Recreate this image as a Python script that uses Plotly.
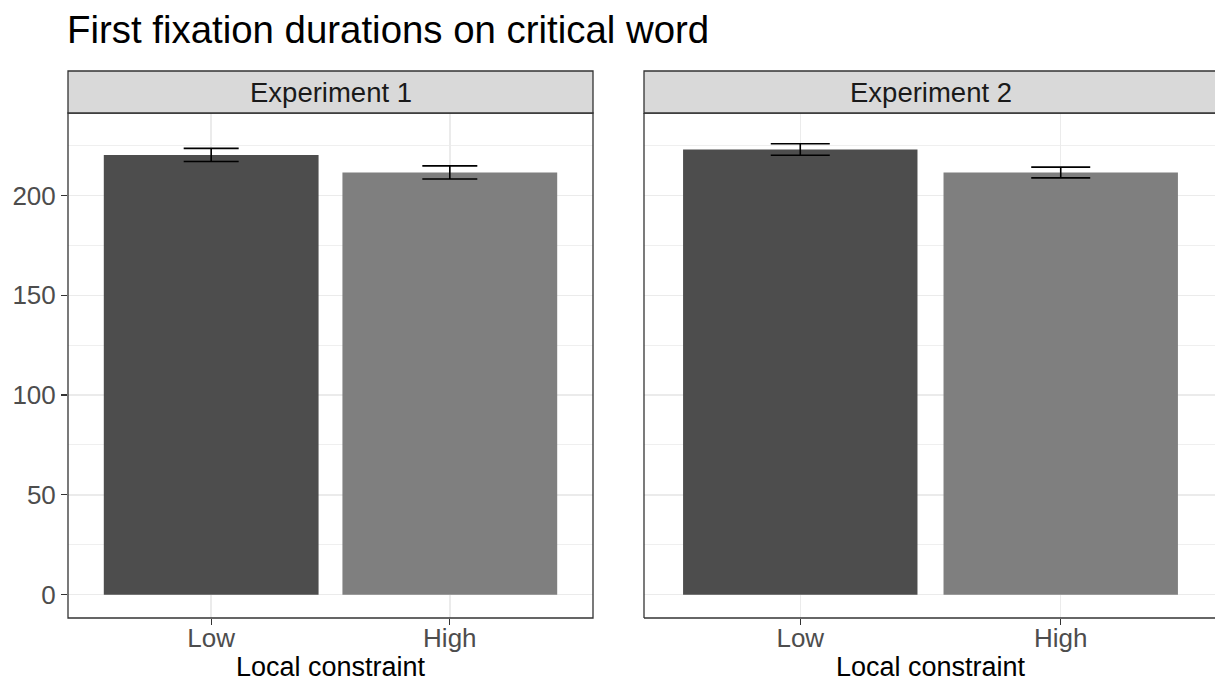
import plotly.graph_objects as go

# ---- data ----
categories = ["Low", "High"]
exp1_means = [220.3, 211.5]
exp1_se = [3.3, 3.3]
exp2_means = [223.0, 211.5]
exp2_se = [2.9, 2.7]
panel_titles = ["Experiment 1", "Experiment 2"]
bar_colors = ["#4D4D4D", "#7F7F7F"]
y_ticks = [0, 50, 100, 150, 200]

W, H = 1215, 685
FONT = "Liberation Sans, Arial, sans-serif"

def px_x(p):
    return p / W

def px_y(p):
    return 1 - p / H

# panel geometry (pixels)
p1_l, p1_r = 68, 593
p2_l, p2_r = 644, 1215
p_top, p_bot = 113, 618
s_top = 71

fig = go.Figure()

for i, (means, se) in enumerate([(exp1_means, exp1_se), (exp2_means, exp2_se)]):
    xa = "x" if i == 0 else "x2"
    fig.add_trace(go.Bar(
        x=categories, y=means, width=0.9,
        marker=dict(color=bar_colors, line=dict(width=0)),
        error_y=dict(type="data", array=se, visible=True, color="black",
                     thickness=1.6, width=27.5 if i == 0 else 29.5),
        xaxis=xa, yaxis="y" if i == 0 else "y2",
        showlegend=False, hoverinfo="skip",
    ))

grid = "#EBEBEB"
yrange = [-11.7, 241.3]
common_x = dict(
    type="category", categoryorder="array", categoryarray=categories,
    showgrid=True, gridcolor=grid, gridwidth=1.4,
    ticks="outside", ticklen=6, tickwidth=1.3, tickcolor="#333333",
    tickfont=dict(family=FONT, size=26, color="#4D4D4D"),
    ticklabelstandoff=-9,
    showline=False, zeroline=False, fixedrange=True,
)
common_y = dict(
    range=yrange, tickvals=y_ticks,
    showgrid=True, gridcolor=grid, gridwidth=1.4,
    minor=dict(dtick=25, tick0=0, showgrid=True, gridcolor=grid, gridwidth=0.8),
    zeroline=False, showline=False, fixedrange=True,
)

p2_range_right = 1.6 - (1217 - p2_r) / ((p2_r - p2_l + 2) / 2.2)

fig.update_layout(
    width=W, height=H,
    margin=dict(l=0, r=0, t=0, b=0),
    paper_bgcolor="white", plot_bgcolor="white",
    bargap=0.1,
    xaxis=dict(domain=[px_x(p1_l), px_x(p1_r)], range=[-0.6, 1.6], anchor="y", **common_x),
    xaxis2=dict(domain=[px_x(p2_l), px_x(p2_r)], range=[-0.6, p2_range_right], anchor="y2", **common_x),
    yaxis=dict(domain=[px_y(p_bot), px_y(p_top)], anchor="x",
               ticks="outside", ticklen=6, tickwidth=1.3, tickcolor="#333333",
               tickfont=dict(family=FONT, size=26, color="#4D4D4D"), **common_y),
    yaxis2=dict(domain=[px_y(p_bot), px_y(p_top)], anchor="x2", matches="y",
                showticklabels=False, ticks="", **common_y),
)

border = dict(color="#333333", width=1.3)
shapes = []
# panel 1 border
shapes.append(dict(type="rect", xref="paper", yref="paper",
                   x0=px_x(p1_l), x1=px_x(p1_r), y0=px_y(p_bot), y1=px_y(p_top),
                   line=border, fillcolor="rgba(0,0,0,0)", layer="above"))
# panel 2 border (right edge is outside the picture)
for (xa0, ya0, xa1, ya1) in [(p2_l, p_bot, p2_l, p_top), (p2_l, p_bot, W + 5, p_bot), (p2_l, p_top, W + 5, p_top)]:
    shapes.append(dict(type="line", xref="paper", yref="paper",
                       x0=px_x(xa0), x1=px_x(xa1), y0=px_y(ya0), y1=px_y(ya1),
                       line=border, layer="above"))
# strips
shapes.append(dict(type="rect", xref="paper", yref="paper",
                   x0=px_x(p1_l), x1=px_x(p1_r), y0=px_y(p_top), y1=px_y(s_top),
                   line=border, fillcolor="#D9D9D9", layer="above"))
shapes.append(dict(type="rect", xref="paper", yref="paper",
                   x0=px_x(p2_l), x1=px_x(W + 5), y0=px_y(p_top), y1=px_y(s_top),
                   line=border, fillcolor="#D9D9D9", layer="above"))
fig.update_layout(shapes=shapes)

ann = []
strip_centers = [(p1_l + p1_r) / 2, (p2_l + 1217) / 2]
for t, cx in zip(panel_titles, strip_centers):
    ann.append(dict(text=t, x=px_x(cx), y=px_y((s_top + p_top) / 2 + 1), xref="paper", yref="paper",
                    xanchor="center", yanchor="middle", showarrow=False,
                    font=dict(family=FONT, size=27.5, color="#1A1A1A")))
for cx in strip_centers:
    ann.append(dict(text="Local constraint", x=px_x(cx), y=px_y(667), xref="paper", yref="paper",
                    xanchor="center", yanchor="middle", showarrow=False,
                    font=dict(family=FONT, size=27, color="black")))
ann.append(dict(text="First fixation durations on critical word", x=px_x(65), y=px_y(29),
                xref="paper", yref="paper", xanchor="left", yanchor="middle", showarrow=False,
                font=dict(family=FONT, size=38.4, color="black")))
fig.update_layout(annotations=ann)

fig.write_html("out.html",
               config={"displayModeBar": False, "staticPlot": True},
               post_script="document.body.style.margin='0';document.body.style.overflow='hidden';")
